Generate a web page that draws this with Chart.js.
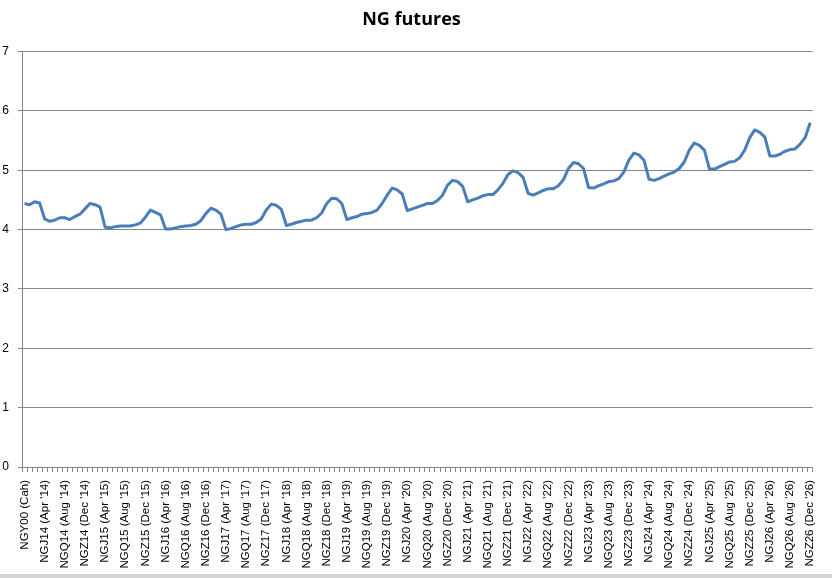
<!DOCTYPE html>
<html>
<head>
<meta charset="utf-8">
<script src="https://cdn.jsdelivr.net/npm/chart.js@4.4.1/dist/chart.umd.min.js"></script>
<style>
  html, body { margin: 0; padding: 0; background: #fff; }
  #wrap { width: 832px; height: 574px; border-bottom: 4px solid #d6d6d6; }
</style>
</head>
<body>
<div id="wrap"><canvas id="chart" width="832" height="574"></canvas></div>
<script>
// contract months (futures month codes)
const monthCodes = ['F', 'G', 'H', 'J', 'K', 'M', 'N', 'Q', 'U', 'V', 'X', 'Z'];
const monthNames = ['Jan', 'Feb', 'Mar', 'Apr', 'May', 'Jun', 'Jul', 'Aug', 'Sep', 'Oct', 'Nov', 'Dec'];
const firstYear = 14;
const lastYear = 26;

// settlement prices, cash first then Jan '14 .. Dec '26
const prices = [
  4.44,
  4.42, 4.47, 4.45, 4.18, 4.14, 4.16, 4.20, 4.20, 4.17, 4.22, 4.26, 4.35,
  4.44, 4.42, 4.38, 4.04, 4.03, 4.05, 4.06, 4.06, 4.06, 4.08, 4.11, 4.21,
  4.33, 4.29, 4.25, 4.01, 4.01, 4.03, 4.05, 4.06, 4.07, 4.09, 4.15, 4.27,
  4.36, 4.33, 4.26, 4.00, 4.02, 4.05, 4.08, 4.09, 4.09, 4.12, 4.18, 4.33,
  4.43, 4.41, 4.34, 4.07, 4.09, 4.12, 4.14, 4.16, 4.16, 4.20, 4.28, 4.44,
  4.53, 4.52, 4.44, 4.17, 4.20, 4.22, 4.26, 4.27, 4.29, 4.33, 4.44, 4.58,
  4.70, 4.67, 4.60, 4.32, 4.35, 4.38, 4.41, 4.44, 4.44, 4.49, 4.58, 4.75,
  4.83, 4.81, 4.73, 4.47, 4.50, 4.53, 4.57, 4.59, 4.59, 4.67, 4.78, 4.93,
  4.99, 4.96, 4.88, 4.61, 4.58, 4.62, 4.66, 4.69, 4.69, 4.74, 4.84, 5.03,
  5.13, 5.11, 5.03, 4.71, 4.70, 4.74, 4.77, 4.81, 4.82, 4.86, 4.97, 5.17,
  5.29, 5.26, 5.17, 4.85, 4.83, 4.86, 4.90, 4.94, 4.97, 5.03, 5.14, 5.34,
  5.46, 5.42, 5.34, 5.02, 5.02, 5.06, 5.10, 5.14, 5.15, 5.21, 5.34, 5.55,
  5.68, 5.64, 5.56, 5.24, 5.24, 5.27, 5.32, 5.35, 5.36, 5.44, 5.55, 5.80
];

const yTicks = [0, 1, 2, 3, 4, 5, 6, 7];

const labels = ['NGY00 (Cah)'];
for (let y = firstYear; y <= lastYear; y++) {
  for (let m = 0; m < 12; m++) {
    labels.push('NG' + monthCodes[m] + y + ' (' + monthNames[m] + " '" + y + ')');
  }
}

const gridGrey = '#868686';

new Chart(document.getElementById('chart'), {
  type: 'line',
  data: {
    labels: labels,
    datasets: [{
      data: prices,
      borderColor: '#4a7ebb',
      borderWidth: 3,
      pointRadius: 0,
      tension: 0,
      borderJoinStyle: 'round',
      fill: false
    }]
  },
  options: {
    responsive: false,
    animation: false,
    layout: { padding: { left: 0, right: 9, top: 0, bottom: 0 } },
    plugins: {
      legend: { display: false },
      tooltip: { enabled: false },
      title: {
        display: true,
        text: 'NG futures',
        color: '#000',
        font: { family: 'Open Sans', size: 18, weight: 'bold' },
        padding: { top: 9, bottom: 21 }
      }
    },
    scales: {
      x: {
        offset: true,
        grid: {
          offset: true,
          drawOnChartArea: false,
          drawTicks: true,
          tickLength: 5,
          color: gridGrey
        },
        border: { color: gridGrey },
        ticks: {
          autoSkip: false,
          maxRotation: 90,
          minRotation: 90,
          padding: 8,
          color: '#000',
          font: { family: 'Liberation Sans', size: 11.5 },
          callback: function (v, i) { return i % 4 === 0 ? labels[i] : ''; }
        },
        afterFit: function (s) { s.height = 107; }
      },
      y: {
        min: 0,
        max: 7,
        afterBuildTicks: function (s) { s.ticks = yTicks.map(v => ({ value: v })); },
        grid: { color: gridGrey, tickLength: 4 },
        border: { color: gridGrey },
        ticks: {
          padding: 9,
          color: '#000',
          font: { family: 'Liberation Sans', size: 12 }
        },
        afterFit: function (s) { s.width = 22; }
      }
    }
  }
});
</script>
</body>
</html>
